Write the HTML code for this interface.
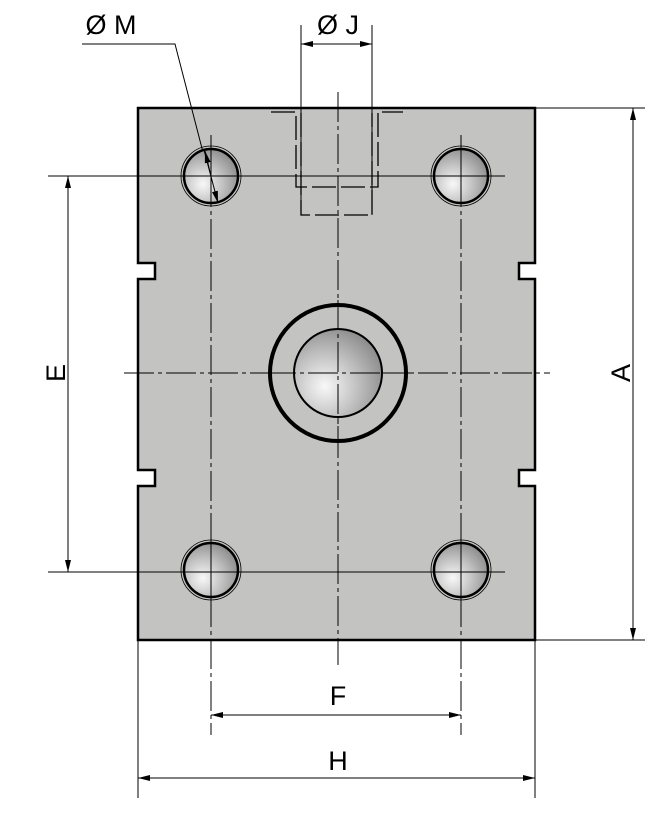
<!DOCTYPE html>
<html><head><style>body{margin:0;background:#fff}svg{display:block}</style></head><body>
<svg width="668" height="814" viewBox="0 0 668 814" xmlns="http://www.w3.org/2000/svg" font-family="Liberation Sans, sans-serif">
<defs>
<radialGradient id="g" cx="0.35" cy="0.65" r="0.75"><stop offset="0" stop-color="#f8f8f8"/><stop offset="0.5" stop-color="#c0c0c0"/><stop offset="1" stop-color="#858585"/></radialGradient>
<marker id="a" viewBox="0 0 12 6" refX="12" refY="3" markerWidth="12" markerHeight="6" orient="auto-start-reverse" markerUnits="userSpaceOnUse"><path d="M0,0L12,3L0,6z" fill="#000"/></marker>
</defs>
<path d="M138,108H535V263H519V279H535V470H519V486H535V640H138V486H155V470H138V279H155V263H138Z" fill="#c3c3c2" stroke="#000" stroke-width="2.5"/>
<g stroke="#000" stroke-width="1" fill="none">
<line x1="48" y1="176" x2="505" y2="176"/>
<line x1="48" y1="572" x2="505" y2="572"/>
<line x1="124" y1="373" x2="550" y2="373" stroke-dasharray="30,4,4,4"/>
<line x1="338" y1="92" x2="338" y2="665" stroke-dasharray="30,4,4,4"/>
<line x1="211" y1="135" x2="211" y2="735" stroke-dasharray="30,4,4,4"/>
<line x1="461" y1="135" x2="461" y2="735" stroke-dasharray="30,4,4,4"/>
<line x1="535" y1="108" x2="645" y2="108"/>
<line x1="535" y1="640" x2="645" y2="640"/>
<line x1="138" y1="640" x2="138" y2="798"/>
<line x1="535" y1="640" x2="535" y2="798"/>
<line x1="301" y1="25" x2="301" y2="215"/>
<line x1="372" y1="25" x2="372" y2="215"/>
<line x1="68" y1="176" x2="68" y2="572" marker-start="url(#a)" marker-end="url(#a)"/>
<line x1="633" y1="108" x2="633" y2="640" marker-start="url(#a)" marker-end="url(#a)"/>
<line x1="211" y1="715" x2="461" y2="715" marker-start="url(#a)" marker-end="url(#a)"/>
<line x1="138" y1="778" x2="535" y2="778" marker-start="url(#a)" marker-end="url(#a)"/>
<line x1="301" y1="44" x2="372" y2="44" marker-start="url(#a)" marker-end="url(#a)"/>
<g stroke-dasharray="24,5" stroke-width="1.3">
<path d="M271,112H296V187H378V112H403"/>
<path d="M301,113V215H372V113"/>
</g>
<polyline points="82,44 175,44 205,160"/>
</g>
<g stroke="#000">
<circle cx="211" cy="176" r="30" fill="none" stroke-width="0.8"/>
<circle cx="211" cy="176" r="27" fill="url(#g)" stroke-width="2.5"/>
<circle cx="461" cy="176" r="30" fill="none" stroke-width="0.8"/>
<circle cx="461" cy="176" r="27" fill="url(#g)" stroke-width="2.5"/>
<circle cx="211" cy="570" r="30" fill="none" stroke-width="0.8"/>
<circle cx="211" cy="570" r="27" fill="url(#g)" stroke-width="2.5"/>
<circle cx="461" cy="570" r="30" fill="none" stroke-width="0.8"/>
<circle cx="461" cy="570" r="27" fill="url(#g)" stroke-width="2.5"/>
<circle cx="338" cy="373" r="68" fill="none" stroke-width="4"/>
<circle cx="338" cy="373" r="44" fill="url(#g)" stroke-width="2"/>
</g>
<g stroke="#000" stroke-width="1">
<line x1="211" y1="150" x2="211" y2="202"/><line x1="185" y1="176" x2="237" y2="176"/>
<line x1="461" y1="150" x2="461" y2="202"/><line x1="435" y1="176" x2="487" y2="176"/>
<line x1="211" y1="544" x2="211" y2="596"/><line x1="185" y1="572" x2="237" y2="572"/>
<line x1="461" y1="544" x2="461" y2="596"/><line x1="435" y1="572" x2="487" y2="572"/>
<line x1="338" y1="300" x2="338" y2="446" stroke-dasharray="30,4,4,4"/><line x1="266" y1="373" x2="410" y2="373" stroke-dasharray="30,4,4,4"/>
<line x1="204" y1="150" x2="218" y2="203" marker-end="url(#a)"/>
<line x1="210" y1="172" x2="205" y2="151" marker-end="url(#a)"/>
</g>
<g font-size="27" fill="#000" text-anchor="middle">
<text x="111" y="34">Ø M</text>
<text x="338" y="34">Ø J</text>
<text x="338" y="705">F</text>
<text x="338" y="770">H</text>
<text transform="translate(65,373) rotate(-90)">E</text>
<text transform="translate(630,373) rotate(-90)">A</text>
</g>
</svg>
</body></html>
